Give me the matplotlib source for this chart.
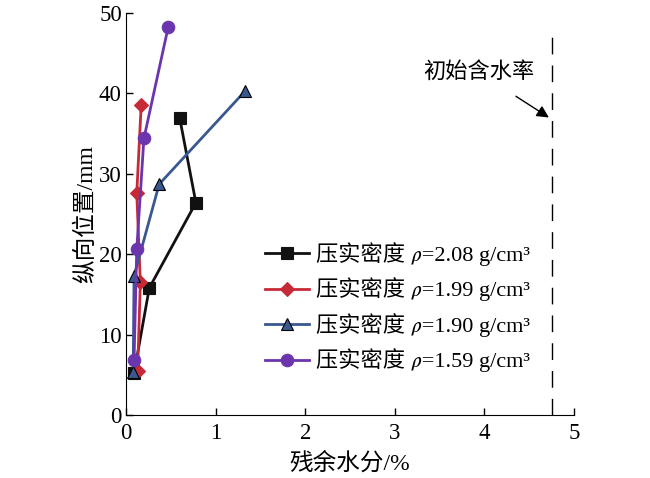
import matplotlib
matplotlib.use('Agg')
import matplotlib.pyplot as plt

plt.rcParams['font.family'] = ['Liberation Serif', 'Noto Sans CJK SC', 'STIXGeneral']

# residual moisture (%) and axial position (mm)
x_208 = [0.09, 0.26, 0.78, 0.60]
y_208 = [5.2, 15.8, 26.4, 36.9]
x_199 = [0.13, 0.16, 0.12, 0.17]
y_199 = [5.5, 16.5, 27.6, 38.6]
x_190 = [0.08, 0.09, 0.37, 1.33]
y_190 = [5.4, 17.3, 28.7, 40.3]
x_159 = [0.09, 0.12, 0.20, 0.47]
y_159 = [6.8, 20.6, 34.4, 48.2]
init_moisture = 4.76

labels = ['2.08', '1.99', '1.90', '1.59']
colors = ['#111111', '#c62a36', '#3a5890', '#6b36ad']
markers = ['s', 'D', '^', 'o']
sizes = [9, 7, 9, 9]

fig = plt.figure(figsize=(6.5, 4.78), dpi=100)
ax = fig.add_axes([126 / 650, 1 - 415 / 478, 448 / 650, 402 / 478])

series = [(x_208, y_208), (x_199, y_199), (x_190, y_190), (x_159, y_159)]
for (xs, ys), lab, c, m, s in zip(series, labels, colors, markers, sizes):
    ec = 'black' if m == '^' else c
    ax.plot(xs, ys, color=c, marker=m, markersize=s, markeredgecolor=ec,
            markeredgewidth=0.8, linewidth=2.0,
            label='压实密度 \U0001D70C=' + lab + ' g/cm³')

ax.plot([init_moisture, init_moisture], [0, 47], color='black', linewidth=1.0,
        dashes=(12, 8))
ax.annotate('初始含水率', xy=(4.72, 37.0), xytext=(3.94, 42.6),
            fontsize=16, ha='center', va='center',
            arrowprops=dict(arrowstyle='-|>', color='black', lw=1.0,
                            mutation_scale=18, shrinkA=14, shrinkB=0))

ax.set_xlim(0, 5)
ax.set_ylim(0, 50)
ax.set_xticks([0, 1, 2, 3, 4, 5])
ax.set_yticks([0, 10, 20, 30, 40, 50])
ax.spines['top'].set_visible(False)
ax.spines['right'].set_visible(False)
ax.tick_params(direction='in', labelsize=16.5, length=5, width=1, pad=3)
ax.tick_params(axis='x', pad=6)
ax.set_xlabel('残余水分/%', fontsize=17, labelpad=6)
ax.set_ylabel('纵向位置/mm', fontsize=17, labelpad=1)

ax.legend(loc='center left', bbox_to_anchor=(0.265, 0.268), frameon=False,
          fontsize=16, handlelength=2.0, handletextpad=0.3, labelspacing=0.52)

fig.savefig('out.png', dpi=100)
